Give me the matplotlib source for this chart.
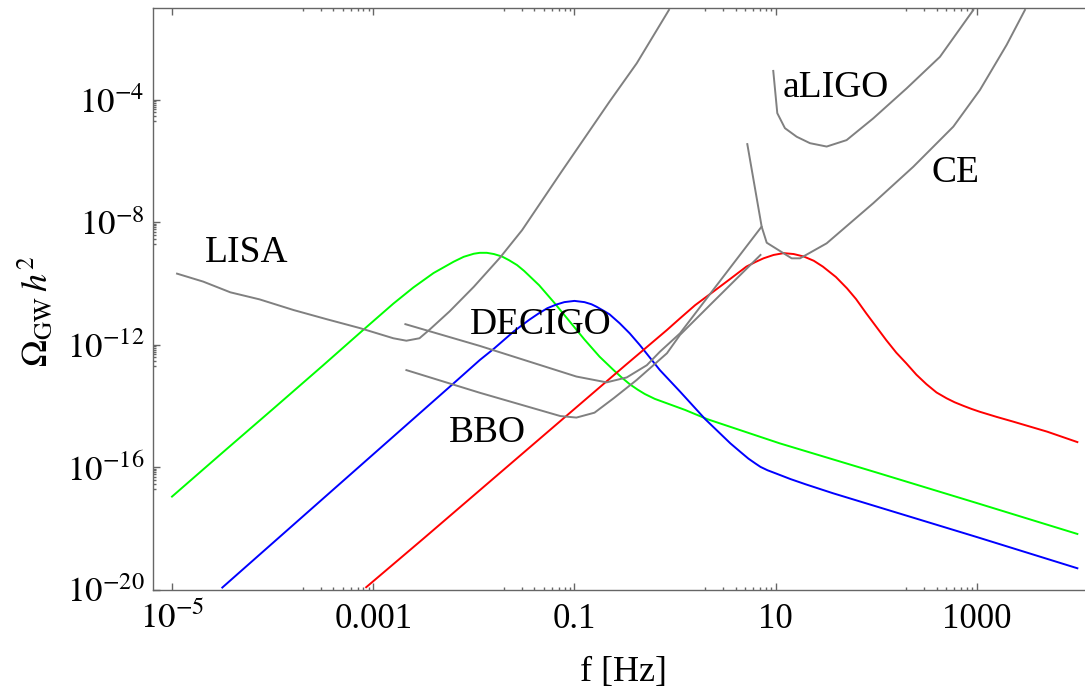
import numpy as np
import matplotlib
matplotlib.use('Agg')
import matplotlib.pyplot as plt
from matplotlib.ticker import FixedLocator, FixedFormatter, NullFormatter

# all values are log10 (f in Hz, Omega h^2)
green_logf = [-5.0, -4.5, -4.0, -3.5, -3.1, -2.8, -2.6, -2.4, -2.2, -2.1, -2.0, -1.94, -1.87, -1.8, -1.72,
              -1.65, -1.57, -1.5, -1.35, -1.2, -1.05, -0.9, -0.75, -0.61, -0.53, -0.45, -0.37, -0.3, -0.2,
              -0.1, 0.1, 0.32, 1.04, 2.0, 3.0, 4.0]
green_logo = [-16.95, -15.52, -14.10, -12.67, -11.51, -10.65, -10.12, -9.65, -9.28, -9.12, -9.02, -8.99,
              -8.99, -9.03, -9.11, -9.23, -9.39, -9.58, -10.05, -10.62, -11.22, -11.82, -12.38, -12.82,
              -13.06, -13.28, -13.46, -13.60, -13.76, -13.88, -14.12, -14.42, -15.21, -16.16, -17.16, -18.17]

blue_logf = [-4.5, -4.0, -3.5, -3.0, -2.5, -2.2, -1.94, -1.8, -1.6, -1.45, -1.36, -1.27, -1.18, -1.1, -1.0,
             -0.9, -0.83, -0.78, -0.7, -0.65, -0.55, -0.45, -0.35, -0.15, 0.05, 0.3, 0.55, 0.65, 0.73, 0.8,
             0.85, 0.92, 1.0, 1.15, 1.3, 1.57, 2.0, 3.0, 4.0]
blue_logo = [-19.92, -18.47, -17.02, -15.57, -14.12, -13.25, -12.49, -12.12, -11.55, -11.18, -10.98, -10.8,
             -10.68, -10.6, -10.56, -10.6, -10.67, -10.75, -10.9, -11.0, -11.29, -11.62, -12.0, -12.82,
             -13.52, -14.42, -15.21, -15.49, -15.71, -15.87, -15.98, -16.09, -16.19, -16.38, -16.55, -16.84,
             -17.27, -18.27, -19.29]

red_logf = [-3.07, -2.5, -2.0, -1.5, -1.0, -0.5, -0.08, 0.05, 0.2, 0.38, 0.55, 0.71, 0.8, 0.88, 0.98, 1.08,
            1.18, 1.28, 1.38, 1.47, 1.6, 1.71, 1.8, 1.9, 2.0, 2.1, 2.2, 2.3, 2.4, 2.5, 2.6, 2.7, 2.78, 2.87,
            2.95, 3.03, 3.2, 3.36, 3.7, 4.0]
red_logo = [-19.91, -18.32, -16.91, -15.5, -14.09, -12.68, -11.51, -11.13, -10.7, -10.26, -9.84, -9.44,
            -9.29, -9.17, -9.06, -9.0, -9.03, -9.11, -9.25, -9.44, -9.78, -10.15, -10.5, -10.96, -11.4,
            -11.84, -12.25, -12.6, -12.97, -13.28, -13.55, -13.74, -13.87, -13.99, -14.09, -14.18, -14.35,
            -14.5, -14.83, -15.17]

# detector sensitivity curves
lisa_logf = [-4.95, -4.69, -4.42, -4.13, -3.79, -3.46, -3.13, -2.80, -2.67, -2.54, -2.44, -2.24, -2.0, -1.74,
             -1.52, -1.13, -0.65, -0.38, -0.06]
lisa_logo = [-9.67, -9.93, -10.28, -10.51, -10.86, -11.16, -11.45, -11.78, -11.86, -11.78, -11.5, -10.9, -10.1,
             -9.15, -8.25, -6.35, -4.05, -2.8, -1.06]

decigo_logf = [-2.68, -1.94, -0.98, -0.68, -0.48, -0.28, -0.15, 0.05, 0.38, 0.86]
decigo_logo = [-11.32, -12.03, -13.03, -13.22, -13.06, -12.66, -12.22, -11.62, -10.2, -8.14]

bbo_logf = [-2.67, -1.94, -1.14, -0.98, -0.80, -0.61, -0.38, -0.08, 0.05, 0.38, 0.85]
bbo_logo = [-12.82, -13.56, -14.32, -14.37, -14.21, -13.74, -13.14, -12.27, -11.67, -10.59, -9.06]

ligo_logf = [0.977, 1.017, 1.093, 1.21, 1.342, 1.508, 1.706, 1.971, 2.303, 2.634, 2.966]
ligo_logo = [-3.05, -4.43, -4.92, -5.2, -5.41, -5.52, -5.31, -4.6, -3.62, -2.59, -1.06]

ce_logf = [0.719, 0.862, 0.912, 1.16, 1.243, 1.508, 1.971, 2.369, 2.767, 3.032, 3.297, 3.479]
ce_logo = [-5.44, -8.14, -8.66, -9.17, -9.17, -8.68, -7.37, -6.18, -4.87, -3.67, -2.2, -1.06]

x_major = [-5, -3, -1, 1, 3]
x_labels = [r'$10^{-5}$', '0.001', '0.1', '10', '1000']
y_major = [-20, -16, -12, -8, -4]
y_labels = [r'$10^{-20}$', r'$10^{-16}$', r'$10^{-12}$', r'$10^{-8}$', r'$10^{-4}$']

plt.rcParams['font.family'] = ['Liberation Serif', 'DejaVu Serif']
plt.rcParams['mathtext.fontset'] = 'stix'

fig = plt.figure(figsize=(10.85, 6.93), dpi=100)
ax = fig.add_axes([153 / 1085, 103 / 693, 932 / 1085, 582 / 693])

curves = [
    (green_logf, green_logo, '#00ff00'),
    (blue_logf, blue_logo, '#0000ff'),
    (red_logf, red_logo, '#ff0000'),
    (lisa_logf, lisa_logo, '#808080'),
    (decigo_logf, decigo_logo, '#808080'),
    (bbo_logf, bbo_logo, '#808080'),
    (ligo_logf, ligo_logo, '#808080'),
    (ce_logf, ce_logo, '#808080'),
]
for lf, lo, c in curves:
    ax.plot(np.power(10.0, lf), np.power(10.0, lo), color=c, lw=1.4)

ax.set_xscale('log')
ax.set_yscale('log')
ax.set_xlim(10 ** -5.189, 10 ** 4.076)
ax.set_ylim(1e-20, 10 ** -0.996)

# ticks like mathematica: majors every 2 / 4 decades, minors only in the decade below a major
ax.xaxis.set_major_locator(FixedLocator([10.0 ** n for n in x_major]))
ax.xaxis.set_major_formatter(FixedFormatter(x_labels))
ax.xaxis.set_minor_locator(FixedLocator([k * 10.0 ** (n - 1) for n in x_major[1:] for k in range(2, 10)]))
ax.xaxis.set_minor_formatter(NullFormatter())
ax.yaxis.set_major_locator(FixedLocator([10.0 ** n for n in y_major]))
ax.yaxis.set_major_formatter(FixedFormatter(y_labels))
ax.yaxis.set_minor_locator(FixedLocator([k * 10.0 ** (n - 1) for n in y_major[1:] for k in range(2, 10)]))
ax.yaxis.set_minor_formatter(NullFormatter())

ax.tick_params(which='both', direction='in', top=True, right=False, color='#666666', labelsize=25, width=1)
ax.tick_params(which='major', length=5, pad=6)
ax.tick_params(which='minor', length=2.5)
ax.tick_params(axis='x', pad=9)
for s in ['left', 'bottom', 'top']:
    ax.spines[s].set_color('#666666')
    ax.spines[s].set_linewidth(1.0)
ax.spines['right'].set_visible(False)

ax.set_xlabel('f [Hz]', fontsize=26, va='top')
ax.xaxis.set_label_coords(0.505, -0.113)
# rotated label: its anchor is the right-hand edge
ax.set_ylabel(r'$\Omega_{\rm GW}\,h^2$', fontsize=26)
ax.yaxis.set_label_coords(-0.105, 0.48)

ax.text(10 ** -4.259, 10 ** -9.29, 'LISA', ha='center', va='baseline', fontsize=27)
ax.text(10 ** -1.337, 10 ** -11.64, 'DECIGO', ha='center', va='baseline', fontsize=27)
ax.text(10 ** -1.864, 10 ** -15.157, 'BBO', ha='center', va='baseline', fontsize=27)
ax.text(10 ** 1.603, 10 ** -3.912, 'aLIGO', ha='center', va='baseline', fontsize=27)
ax.text(10 ** 2.788, 10 ** -6.668, 'CE', ha='center', va='baseline', fontsize=27)

fig.savefig('out.png', dpi=100)
